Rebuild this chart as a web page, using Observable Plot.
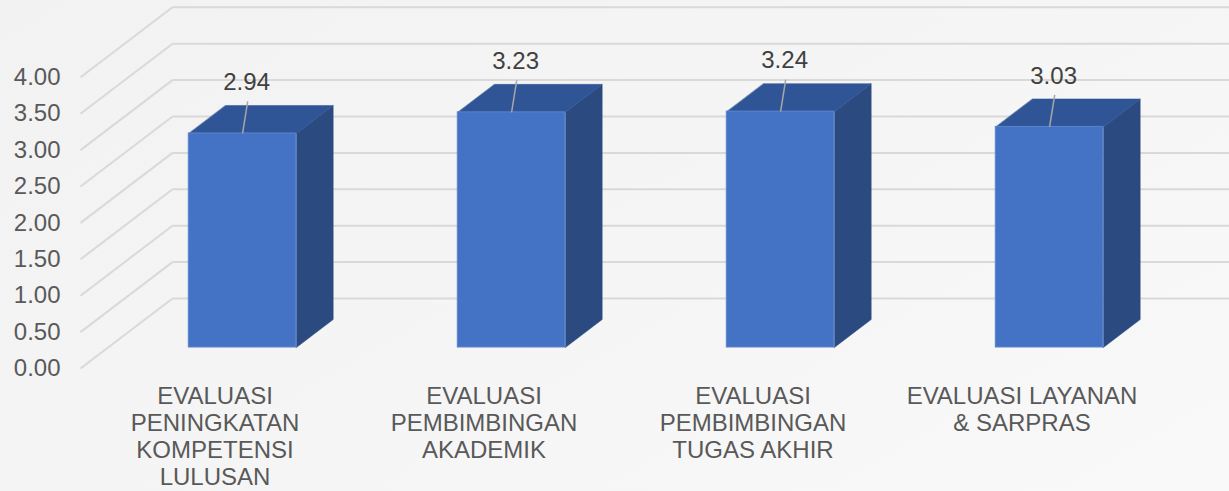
<!DOCTYPE html>
<html><head><meta charset="utf-8">
<script src="https://cdn.jsdelivr.net/npm/d3@7"></script>
<script src="https://cdn.jsdelivr.net/npm/@observablehq/plot@0.6"></script>
<style>
html,body{margin:0;padding:0;background:#f5f5f5;}
#chart svg{display:block;}
</style></head><body><div id="chart"></div>
<script>
// ---- data ----
const categories = [
  "EVALUASI PENINGKATAN KOMPETENSI LULUSAN",
  "EVALUASI PEMBIMBINGAN AKADEMIK",
  "EVALUASI PEMBIMBINGAN TUGAS AKHIR",
  "EVALUASI LAYANAN & SARPRAS"
];
const categoryLabels = [
  "EVALUASI\nPENINGKATAN\nKOMPETENSI\nLULUSAN",
  "EVALUASI\nPEMBIMBINGAN\nAKADEMIK",
  "EVALUASI\nPEMBIMBINGAN\nTUGAS AKHIR",
  "EVALUASI LAYANAN\n& SARPRAS"
];
const values = [2.94, 3.23, 3.24, 3.03];
const valueLabels = ["2.94", "3.23", "3.24", "3.03"];
const yTicks = [0, 0.5, 1, 1.5, 2, 2.5, 3, 3.5, 4];
const yTickLabels = ["0.00", "0.50", "1.00", "1.50", "2.00", "2.50", "3.00", "3.50", "4.00"];

// ---- 3D projection helpers (depth vector in data units) ----
const DX = 0.342, DY = 0.9615;
const D0 = 0.3, D1 = 0.7;   // bar depth span
const B0 = 0.3, B1 = 0.7;   // bar span within band
const P = (x, y, d) => ({x: x + DX * d, y: y + DY * d});

const bars = values.map((v, i) => ({i, v, cat: categories[i], label: valueLabels[i]}));
const fronts = bars.map(b => ({x1: b.i + B0 + DX * D0, x2: b.i + B1 + DX * D0, y1: DY * D0, y2: b.v + DY * D0}));
const tops = bars.flatMap(b => [P(b.i + B0, b.v, D0), P(b.i + B1, b.v, D0), P(b.i + B1, b.v, D1), P(b.i + B0, b.v, D1)].map(p => ({...p, id: b.i})));
const sides = bars.flatMap(b => [P(b.i + B1, 0, D0), P(b.i + B1, 0, D1), P(b.i + B1, b.v, D1), P(b.i + B1, b.v, D0)].map(p => ({...p, id: b.i})));

const sideGrid = yTicks.map(t => ({x1: 0, y1: t, x2: DX, y2: t + DY}));
const backGrid = yTicks.map(t => ({x1: DX, y1: t + DY, x2: 4 + DX + 0.5, y2: t + DY}));

const labelPos = bars.map(b => ({
  x: b.i + 0.5 + DX * D0 + 0.015,
  y: b.v + DY * D0 + 0.7,
  lx1: b.i + 0.5 + DX * D0 + 0.019, ly1: b.v + DY * D0 + 0.44,
  lx2: b.i + 0.5 + DX * D0, ly2: b.v + DY * D0,
  label: b.label
}));

const font = "'Liberation Sans', Arial, sans-serif";
const grid = "#d9d9d9";

const chart = Plot.plot({
  width: 1229,
  height: 491,
  marginLeft: 80,
  marginRight: 73,
  marginTop: 76.8,
  marginBottom: 123,
  x: {domain: [0, 4], axis: null},
  y: {domain: [0, 4]},
  style: {
    background: "linear-gradient(150deg, #f2f2f2 0%, #f5f5f5 50%, #f9f9f9 100%)",
    fontFamily: font,
    color: "#595959",
    overflow: "hidden"
  },
  marks: [
    Plot.link(backGrid, {x1: "x1", y1: "y1", x2: "x2", y2: "y2", stroke: grid, strokeWidth: 2}),
    Plot.link(sideGrid, {x1: "x1", y1: "y1", x2: "x2", y2: "y2", stroke: grid, strokeWidth: 2}),
    Plot.line(sides, {x: "x", y: "y", z: "id", fill: "#2b4a80", stroke: "#2b4a80", strokeWidth: 0.5, curve: "linear-closed"}),
    Plot.line(tops, {x: "x", y: "y", z: "id", fill: "#305597", stroke: "#305597", strokeWidth: 0.5, curve: "linear-closed"}),
    Plot.rect(fronts, {x1: "x1", x2: "x2", y1: "y1", y2: "y2", fill: "#4472c4", stroke: "#5a84cc", strokeWidth: 1}),
    Plot.link(labelPos, {x1: "lx1", y1: "ly1", x2: "lx2", y2: "ly2", stroke: "#a6a6a6", strokeWidth: 1.5}),
    Plot.text(labelPos, {x: "x", y: "y", text: "label", fontSize: 24, fill: "#404040", textAnchor: "middle", lineAnchor: "middle"}),
    Plot.axisY(yTicks, {tickSize: 0, tickPadding: 20, tickFormat: (d, i) => yTickLabels[i], fontSize: 24, fill: "#595959"}),
    Plot.text(bars, {x: d => d.i + 0.5, y: 0, text: d => categoryLabels[d.i], dy: 16, lineAnchor: "top", lineHeight: 1.125, fontSize: 24, fill: "#595959", textAnchor: "middle"})
  ]
});
document.getElementById("chart").append(chart);
</script></body></html>
